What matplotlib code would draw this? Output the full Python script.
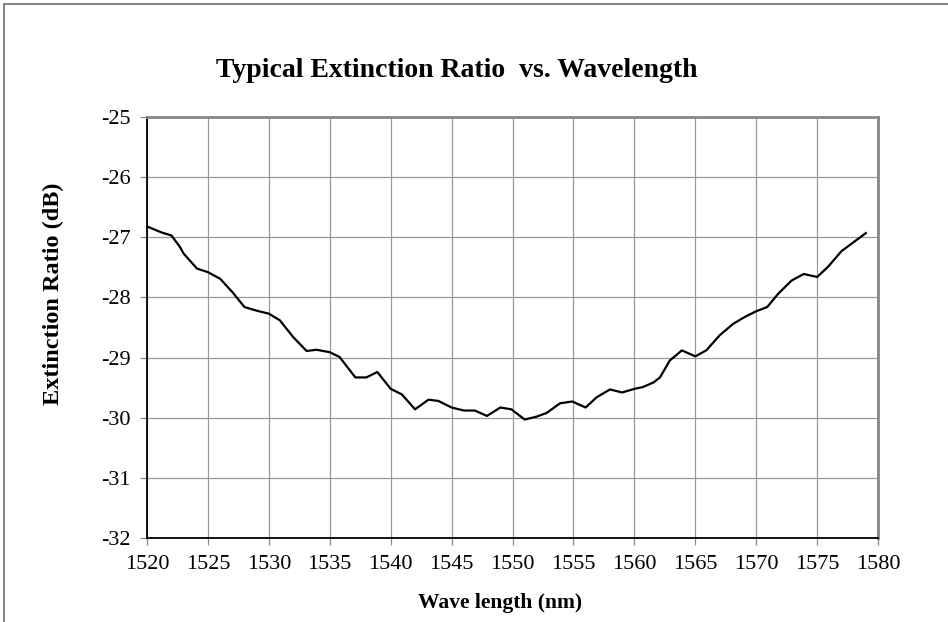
import matplotlib
matplotlib.use("Agg")
import matplotlib.pyplot as plt
from matplotlib.patches import Rectangle

# values
wavelength = [1520.0, 1521.2, 1522.0, 1522.7, 1523.0, 1524.1, 1525.0, 1526.0, 1527.0, 1528.0,
              1529.0, 1530.0, 1530.9, 1532.0, 1533.1, 1533.9, 1535.0, 1535.8, 1537.1, 1538.0,
              1538.9, 1540.0, 1540.9, 1542.0, 1543.1, 1543.9, 1545.0, 1546.0, 1546.9, 1547.9,
              1549.0, 1549.9, 1551.0, 1552.0, 1552.8, 1553.9, 1554.9, 1556.0, 1556.9, 1558.0,
              1559.0, 1560.0, 1560.7, 1561.6, 1562.1, 1562.9, 1563.9, 1565.0, 1565.9, 1567.0,
              1568.1, 1569.1, 1570.0, 1570.9, 1571.8, 1572.9, 1573.9, 1575.0, 1575.9, 1577.0,
              1578.0, 1579.0]
extinction = [-26.82, -26.92, -26.97, -27.16, -27.27, -27.52, -27.58, -27.69, -27.91, -28.16,
              -28.22, -28.27, -28.38, -28.66, -28.89, -28.87, -28.91, -28.99, -29.33, -29.33,
              -29.24, -29.52, -29.61, -29.86, -29.70, -29.72, -29.83, -29.88, -29.88, -29.97,
              -29.83, -29.86, -30.03, -29.98, -29.92, -29.76, -29.73, -29.83, -29.66, -29.53,
              -29.58, -29.52, -29.49, -29.41, -29.33, -29.05, -28.88, -28.98, -28.88, -28.63,
              -28.44, -28.32, -28.23, -28.16, -27.94, -27.72, -27.61, -27.66, -27.49, -27.23,
              -27.08, -26.93]
x_ticks = list(range(1520, 1581, 5))
y_ticks = list(range(-32, -24))

plt.rcParams['font.family'] = ['Liberation Serif', 'DejaVu Serif']
plt.rcParams['axes.unicode_minus'] = False

fig = plt.figure(figsize=(9.48, 6.22), dpi=100)
ax = fig.add_axes([0.1551, 0.1350, 0.7711, 0.6769])

ax.plot(wavelength, extinction, color='black', linewidth=1.6)

ax.set_xlim(1520, 1580)
ax.set_ylim(-32, -25)
ax.set_xticks(x_ticks)
ax.set_yticks(y_ticks)
ax.grid(True, color='#999999', linewidth=0.9)
ax.set_axisbelow(True)
ax.tick_params(direction='out', length=5, width=0.9, color='#888888',
               labelsize=16, pad=7)

for side in ['top', 'right']:
    ax.spines[side].set_color('#888888')
    ax.spines[side].set_linewidth(2)
for side in ['left', 'bottom']:
    ax.spines[side].set_color('black')
    ax.spines[side].set_linewidth(1.3)

fig.text(0.482, 0.886, 'Typical Extinction Ratio  vs. Wavelength', ha='center', va='center',
         fontsize=20, fontweight='bold')
fig.text(0.527, 0.031, 'Wave length (nm)', ha='center', va='center',
         fontsize=15.5, fontweight='bold')
fig.text(0.056, 0.527, 'Extinction Ratio (dB)', ha='center', va='center', rotation=90,
         fontsize=17.5, fontweight='bold')

# outer frame, cut off on the right and bottom like the reference
fig.patches.append(Rectangle((4 / 948, -0.1), 1.2, 1 - 4 / 622 + 0.1, transform=fig.transFigure,
                             fill=False, edgecolor='#888888', linewidth=1.5))

fig.savefig('out.png', dpi=100)
